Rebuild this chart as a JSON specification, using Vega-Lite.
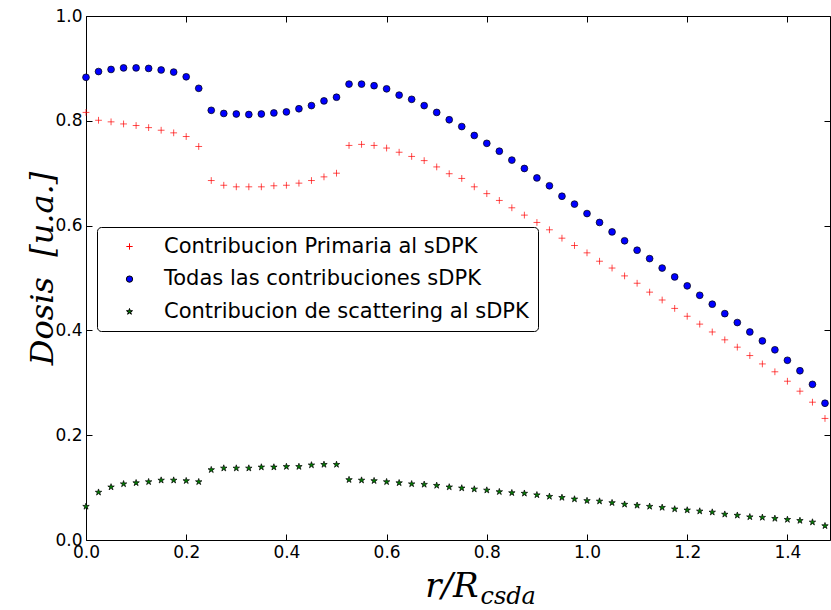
{
  "$schema": "https://vega.github.io/schema/vega-lite/v6.json",
  "width": 744,
  "height": 524,
  "autosize": "none",
  "padding": {"left": 86, "top": 16, "right": 1, "bottom": 70},
  "background": "white",
  "config": {
    "view": {"stroke": "black", "strokeWidth": 1},
    "axis": {"grid": false, "domain": false, "tickColor": "black", "tickWidth": 1, "labelColor": "black", "labelFont": "DejaVu Sans", "labelFontSize": 17, "titleColor": "black"},
    "legend": {"orient": "none", "legendX": 11, "legendY": 211, "fillColor": "white", "strokeColor": "black", "cornerRadius": 4, "padding": 9, "labelFont": "DejaVu Sans", "labelFontSize": 21, "labelColor": "black", "labelOffset": 24, "symbolOffset": 13, "symbolSize": 40, "rowPadding": 10.6, "symbolStrokeWidth": 1, "labelLimit": 0}
  },
  "resolve": {"axis": {"x": "independent", "y": "independent"}},
  "layer": [
    {
      "data": {"values": [
        {"r":0.000,"p":0.816,"t":0.883,"s":0.064},
        {"r":0.025,"p":0.801,"t":0.894,"s":0.091},
        {"r":0.050,"p":0.798,"t":0.898,"s":0.101},
        {"r":0.075,"p":0.794,"t":0.901,"s":0.107},
        {"r":0.100,"p":0.791,"t":0.901,"s":0.109},
        {"r":0.125,"p":0.787,"t":0.900,"s":0.111},
        {"r":0.150,"p":0.782,"t":0.897,"s":0.114},
        {"r":0.175,"p":0.777,"t":0.893,"s":0.114},
        {"r":0.200,"p":0.770,"t":0.884,"s":0.113},
        {"r":0.225,"p":0.751,"t":0.862,"s":0.111},
        {"r":0.250,"p":0.686,"t":0.820,"s":0.134},
        {"r":0.275,"p":0.677,"t":0.814,"s":0.137},
        {"r":0.300,"p":0.674,"t":0.813,"s":0.137},
        {"r":0.325,"p":0.674,"t":0.812,"s":0.137},
        {"r":0.350,"p":0.674,"t":0.813,"s":0.139},
        {"r":0.375,"p":0.676,"t":0.815,"s":0.139},
        {"r":0.400,"p":0.677,"t":0.817,"s":0.140},
        {"r":0.425,"p":0.681,"t":0.823,"s":0.140},
        {"r":0.450,"p":0.686,"t":0.829,"s":0.143},
        {"r":0.475,"p":0.693,"t":0.838,"s":0.144},
        {"r":0.500,"p":0.700,"t":0.845,"s":0.144},
        {"r":0.525,"p":0.753,"t":0.870,"s":0.115},
        {"r":0.550,"p":0.755,"t":0.870,"s":0.114},
        {"r":0.575,"p":0.753,"t":0.867,"s":0.113},
        {"r":0.600,"p":0.748,"t":0.861,"s":0.111},
        {"r":0.625,"p":0.740,"t":0.849,"s":0.109},
        {"r":0.650,"p":0.732,"t":0.841,"s":0.107},
        {"r":0.675,"p":0.724,"t":0.829,"s":0.106},
        {"r":0.700,"p":0.712,"t":0.816,"s":0.104},
        {"r":0.725,"p":0.699,"t":0.802,"s":0.101},
        {"r":0.750,"p":0.690,"t":0.789,"s":0.099},
        {"r":0.775,"p":0.674,"t":0.772,"s":0.097},
        {"r":0.800,"p":0.661,"t":0.757,"s":0.095},
        {"r":0.825,"p":0.648,"t":0.742,"s":0.092},
        {"r":0.850,"p":0.634,"t":0.725,"s":0.090},
        {"r":0.875,"p":0.620,"t":0.709,"s":0.089},
        {"r":0.900,"p":0.606,"t":0.691,"s":0.086},
        {"r":0.925,"p":0.592,"t":0.676,"s":0.083},
        {"r":0.950,"p":0.576,"t":0.656,"s":0.081},
        {"r":0.975,"p":0.562,"t":0.641,"s":0.078},
        {"r":1.000,"p":0.548,"t":0.623,"s":0.075},
        {"r":1.025,"p":0.532,"t":0.606,"s":0.074},
        {"r":1.050,"p":0.519,"t":0.588,"s":0.071},
        {"r":1.075,"p":0.504,"t":0.571,"s":0.068},
        {"r":1.100,"p":0.490,"t":0.553,"s":0.066},
        {"r":1.125,"p":0.473,"t":0.537,"s":0.064},
        {"r":1.150,"p":0.458,"t":0.519,"s":0.062},
        {"r":1.175,"p":0.442,"t":0.502,"s":0.059},
        {"r":1.200,"p":0.427,"t":0.485,"s":0.057},
        {"r":1.225,"p":0.412,"t":0.467,"s":0.055},
        {"r":1.250,"p":0.397,"t":0.450,"s":0.053},
        {"r":1.275,"p":0.382,"t":0.432,"s":0.049},
        {"r":1.300,"p":0.368,"t":0.415,"s":0.047},
        {"r":1.325,"p":0.352,"t":0.397,"s":0.044},
        {"r":1.350,"p":0.336,"t":0.380,"s":0.043},
        {"r":1.375,"p":0.321,"t":0.363,"s":0.041},
        {"r":1.400,"p":0.303,"t":0.343,"s":0.039},
        {"r":1.425,"p":0.284,"t":0.323,"s":0.037},
        {"r":1.450,"p":0.263,"t":0.297,"s":0.034},
        {"r":1.475,"p":0.232,"t":0.261,"s":0.027}
      ]},
      "transform": [{"fold": ["p", "t", "s"], "as": ["serie", "dosis"]}],
      "mark": {"type": "point", "filled": true, "opacity": 1, "size": 46, "strokeWidth": 0.7},
      "encoding": {
        "x": {"field": "r", "type": "quantitative",
          "scale": {"domain": [0, 1.485], "nice": false, "zero": false},
          "axis": {"orient": "bottom", "values": [0, 0.2, 0.4, 0.6, 0.8, 1.0, 1.2, 1.4], "format": ".1f", "tickSize": -6, "labelPadding": 10, "labelFlush": false, "labelOverlap": false, "labelBound": false,
            "title": "r/R", "titleFont": "DejaVu Serif", "titleFontStyle": "italic", "titleFontWeight": "normal", "titleFontSize": 34, "titleX": 392, "titleY": 56, "titleAlign": "right", "titleBaseline": "alphabetic", "titleAngle": 0}},
        "y": {"field": "dosis", "type": "quantitative",
          "scale": {"domain": [0, 1], "nice": false, "zero": false},
          "axis": {"orient": "left", "values": [0, 0.2, 0.4, 0.6, 0.8, 1.0], "format": ".1f", "tickSize": -6, "labelPadding": 10, "labelFlush": false, "labelOverlap": false, "labelBound": false,
            "title": "Dosis\u00a0\u00a0[u.a.]", "titleFont": "DejaVu Serif", "titleFontStyle": "italic", "titleFontWeight": "normal", "titleFontSize": 32, "titleX": -44, "titleY": 252, "titleAngle": -90, "titleAlign": "center", "titleBaseline": "middle"}},
        "fill": {"field": "serie", "type": "nominal",
          "scale": {"domain": ["p", "t", "s"], "range": ["#ff0000", "#0000ff", "#008000"]},
          "legend": {"title": null, "labelExpr": "datum.label == 'p' ? 'Contribucion Primaria al sDPK' : datum.label == 't' ? 'Todas las contribuciones sDPK' : 'Contribucion de scattering al sDPK'"}},
        "stroke": {"field": "serie", "type": "nominal",
          "scale": {"domain": ["p", "t", "s"], "range": ["#ff0000", "#000000", "#000000"]},
          "legend": {"title": null, "labelExpr": "datum.label == 'p' ? 'Contribucion Primaria al sDPK' : datum.label == 't' ? 'Todas las contribuciones sDPK' : 'Contribucion de scattering al sDPK'"}},
        "shape": {"field": "serie", "type": "nominal",
          "scale": {"domain": ["p", "t", "s"], "range": ["M-1,0H1M0,-1V1", "circle", "M0,-1L0.2234,-0.3074L0.9511,-0.309L0.3614,0.1174L0.5878,0.809L0,0.38L-0.5878,0.809L-0.3614,0.1174L-0.9511,-0.309L-0.2234,-0.3074Z"]},
          "legend": {"title": null, "labelExpr": "datum.label == 'p' ? 'Contribucion Primaria al sDPK' : datum.label == 't' ? 'Todas las contribuciones sDPK' : 'Contribucion de scattering al sDPK'"}}
      }
    },
    {
      "data": {"values": []},
      "mark": {"type": "point", "opacity": 0},
      "encoding": {
        "x": {"field": "r", "type": "quantitative",
          "axis": {"orient": "top", "values": [0, 0.2, 0.4, 0.6, 0.8, 1.0, 1.2, 1.4], "tickSize": -6, "labels": false,
            "title": "csda", "titleFont": "DejaVu Serif", "titleFontStyle": "italic", "titleFontWeight": "normal", "titleFontSize": 24, "titleX": 394, "titleY": 587, "titleAlign": "left", "titleBaseline": "alphabetic", "titleAngle": 0}},
        "y": {"field": "dosis", "type": "quantitative",
          "axis": {"orient": "right", "values": [0, 0.2, 0.4, 0.6, 0.8, 1.0], "tickSize": -6, "labels": false, "title": null}}
      }
    }
  ]
}
